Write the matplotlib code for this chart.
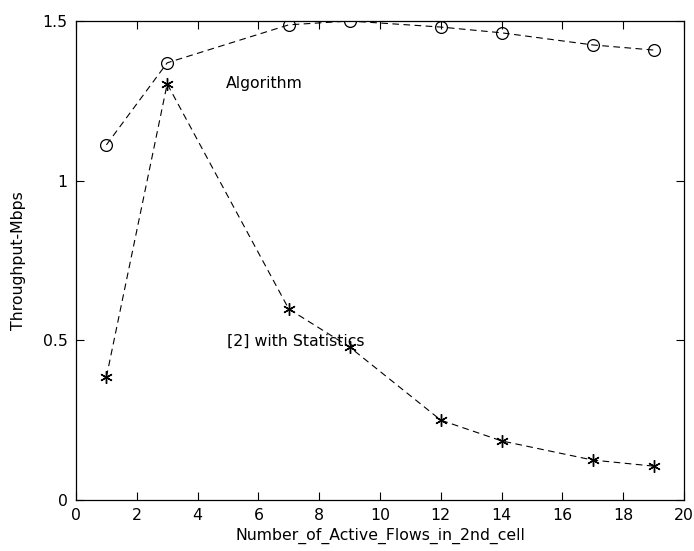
import matplotlib
matplotlib.use("Agg")
from matplotlib import pyplot as plt

# throughput vs number of active flows in the 2nd cell
flows = [1, 3, 7, 9, 12, 14, 17, 19]
algorithm = [1.112, 1.369, 1.488, 1.500, 1.481, 1.463, 1.425, 1.409]
statistics = [0.385, 1.303, 0.598, 0.479, 0.250, 0.185, 0.125, 0.106]

plt.rcParams['font.family'] = ['DejaVu Sans']
plt.rcParams['font.size'] = 11.3

fig = plt.figure(figsize=(6.94, 5.51), dpi=100)
ax = fig.add_axes([0.1095, 0.0926, 0.8761, 0.8693])

ax.plot(flows, algorithm, color='black', linestyle=(0, (6, 4)), linewidth=0.8,
        marker='o', markersize=8.5, markerfacecolor='none', markeredgecolor='black',
        markeredgewidth=0.9)
ax.plot(flows, statistics, color='black', linestyle=(0, (6, 4)), linewidth=0.8,
        marker=(6, 2, 0), markersize=9, markeredgecolor='black', markeredgewidth=1.0)

ax.text(4.93, 1.303, 'Algorithm', va='center', ha='left')
ax.text(4.97, 0.498, '[2] with Statistics', va='center', ha='left')

ax.set_xlim(0, 20)
ax.set_ylim(0, 1.5)
ax.set_xticks(range(0, 21, 2))
ax.set_yticks([0, 0.5, 1, 1.5])
ax.set_yticklabels(['0', '0.5', '1', '1.5'])
ax.tick_params(direction='in', top=True, right=True, length=6, width=0.8)
ax.tick_params(axis='x', pad=6)
ax.tick_params(axis='y', pad=6)
for s in ax.spines.values():
    s.set_linewidth(0.9)

ax.set_xlabel('Number_of_Active_Flows_in_2nd_cell', labelpad=3)
ax.set_ylabel('Throughput-Mbps', labelpad=12)

plt.savefig('out.png', dpi=100)
